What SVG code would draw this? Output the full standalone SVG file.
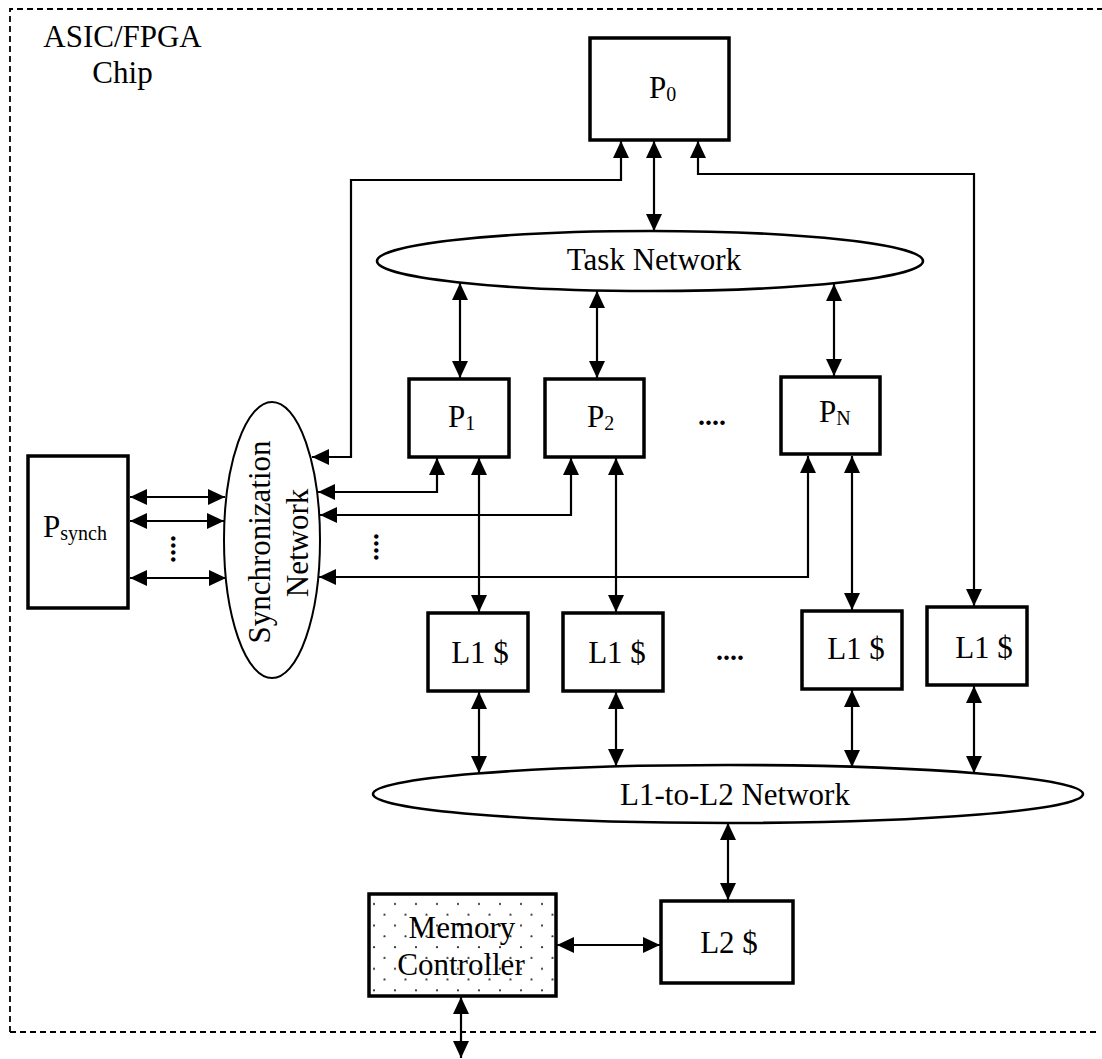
<svg xmlns="http://www.w3.org/2000/svg" width="1102" height="1059" viewBox="0 0 1102 1059">
<style>
text{font-family:"Liberation Serif","Times New Roman",serif;font-size:31px;fill:#000}
.box{fill:#fff;stroke:#000;stroke-width:3.5}
.ell{fill:#fff;stroke:#000;stroke-width:2.6}
.sub{font-size:20px}
.dots{font-size:28px;font-weight:bold}
.con path{fill:none;stroke:#000;stroke-width:2.2;marker-start:url(#ah);marker-end:url(#ah)}
.border{fill:none;stroke:#000;stroke-width:1.8;stroke-dasharray:6 4}
</style>
<defs>
<marker id="ah" viewBox="0 0 17 16" refX="17" refY="8" markerWidth="17" markerHeight="16" markerUnits="userSpaceOnUse" orient="auto-start-reverse"><path d="M0,0 L17,8 L0,16 z" fill="#000"/></marker>
<pattern id="dotpat" patternUnits="userSpaceOnUse" x="369" y="894" width="21" height="21.6"><circle cx="5" cy="10" r="1.1" fill="#333"/><circle cx="15.5" cy="20.8" r="1.1" fill="#333"/></pattern>
</defs>
<rect width="1102" height="1059" fill="#fff"/>
<path class="border" d="M10,1032 L10,9 L1102,9"/>
<path class="border" d="M10,1032 L1097,1032"/>
<text x="122.5" y="47" text-anchor="middle">ASIC/FPGA</text>
<text x="122.5" y="83" text-anchor="middle">Chip</text>

<g id="P0"><rect class="box" x="590" y="38" width="139" height="102"/><text x="649" y="98">P<tspan class="sub" dy="3">0</tspan></text></g>
<g id="TaskNetwork"><ellipse class="ell" cx="650" cy="261" rx="273" ry="30"/><text x="654" y="270" text-anchor="middle">Task Network</text></g>
<g id="P1"><rect class="box" x="409" y="379" width="100" height="78"/><text x="448" y="427">P<tspan class="sub" dy="3">1</tspan></text></g>
<g id="P2"><rect class="box" x="545" y="379" width="99" height="78"/><text x="587" y="427">P<tspan class="sub" dy="3">2</tspan></text></g>
<g id="dotsP"><text class="dots" x="698" y="425">....</text></g>
<g id="PN"><rect class="box" x="781" y="377" width="99" height="77"/><text x="819" y="422">P<tspan class="sub" dy="3">N</tspan></text></g>
<g id="SyncNetwork"><ellipse cx="272" cy="540" rx="48" ry="138" fill="#fff" stroke="#000" stroke-width="2"/>
<text transform="translate(270,542) rotate(-90)" text-anchor="middle">Synchronization</text>
<text transform="translate(308,543) rotate(-90)" text-anchor="middle">Network</text></g>
<g id="Psynch"><rect class="box" x="28" y="456" width="100" height="152"/><text x="43" y="537">P<tspan class="sub" dy="3">synch</tspan></text></g>
<g id="dotsSyncL"><text class="dots" transform="translate(171,535) rotate(90)">....</text></g>
<g id="dotsSyncR"><text class="dots" transform="translate(374,533) rotate(90)">....</text></g>
<g id="L1a"><rect class="box" x="428" y="613" width="100" height="78"/><text x="480" y="663" text-anchor="middle">L1 $</text></g>
<g id="L1b"><rect class="box" x="563" y="613" width="100" height="78"/><text x="617" y="663" text-anchor="middle">L1 $</text></g>
<g id="dotsL1"><text class="dots" x="716" y="660">....</text></g>
<g id="L1N"><rect class="box" x="802" y="611" width="100" height="78"/><text x="856" y="659" text-anchor="middle">L1 $</text></g>
<g id="L1P0"><rect class="box" x="927" y="607" width="100" height="78"/><text x="984" y="658" text-anchor="middle">L1 $</text></g>
<g id="L1toL2Network"><ellipse class="ell" cx="728" cy="794" rx="355" ry="29"/><text x="735" y="805" text-anchor="middle">L1-to-L2 Network</text></g>
<g id="L2"><rect class="box" x="661" y="901" width="132" height="82"/><text x="729" y="953" text-anchor="middle">L2 $</text></g>
<g id="MemoryController"><rect class="box" x="369" y="894" width="187" height="102"/><rect x="371" y="896" width="183" height="98" fill="url(#dotpat)"/>
<text x="462" y="938" text-anchor="middle">Memory</text><text x="461" y="975" text-anchor="middle">Controller</text></g>

<g id="connectors" class="con">
<path d="M654,141 L654,231"/>
<path d="M312,457 L351,457 L351,180 L621,180 L621,141"/>
<path d="M698,141 L698,174 L974,174 L974,606"/>
<path d="M460,283 L460,378"/>
<path d="M597,291 L597,378"/>
<path d="M834,284 L834,376"/>
<path d="M318,492 L437,492 L437,458"/>
<path d="M320,515 L571,515 L571,458"/>
<path d="M319,577 L808,577 L808,456"/>
<path d="M479,458 L479,612"/>
<path d="M616,458 L616,612"/>
<path d="M852,456 L852,610"/>
<path d="M479,692 L479,773"/>
<path d="M616,692 L616,766"/>
<path d="M852,690 L852,767"/>
<path d="M974,686 L974,773"/>
<path d="M728,823 L728,900"/>
<path d="M557,945 L660,945"/>
<path d="M461,997 L461,1058"/>
<path d="M130,497 L225,497"/>
<path d="M130,521 L224,521"/>
<path d="M130,578 L226,578"/>
</g>
</svg>
